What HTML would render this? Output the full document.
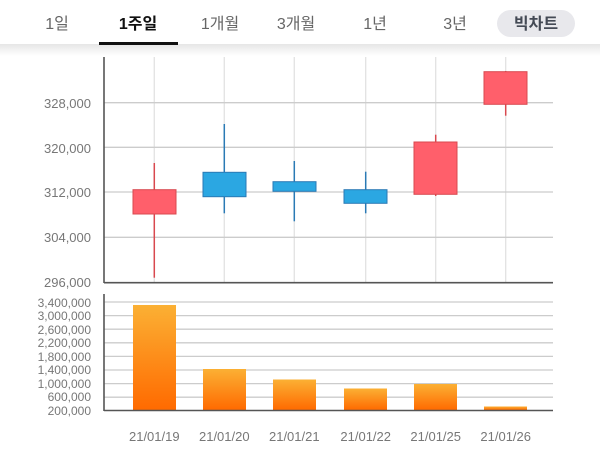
<!DOCTYPE html>
<html><head><meta charset="utf-8"><style>
body{margin:0;width:600px;height:465px;background:#fff;overflow:hidden;font-family:"Liberation Sans","Noto Sans CJK KR",sans-serif}
</style></head><body>
<svg width="600" height="465" xmlns="http://www.w3.org/2000/svg" style="position:absolute;left:0;top:0">
<defs>
<linearGradient id="g" x1="0" y1="0" x2="0" y2="1"><stop offset="0" stop-color="#fbb034"/><stop offset="1" stop-color="#ff6a00"/></linearGradient>
<linearGradient id="sh" x1="0" y1="0" x2="0" y2="1"><stop offset="0" stop-color="#e6e6e6"/><stop offset="1" stop-color="#fff"/></linearGradient>
</defs>
<rect x="0" y="44" width="600" height="12" fill="url(#sh)"/>
<g font-size="16" fill="#666" font-family="Liberation Sans,Noto Sans CJK KR,sans-serif">
<text x="57" y="29" text-anchor="middle">1일</text>
<text x="138" y="29" text-anchor="middle" font-weight="bold" fill="#111">1주일</text>
<text x="220" y="29" text-anchor="middle">1개월</text>
<text x="296" y="29" text-anchor="middle">3개월</text>
<text x="375" y="29" text-anchor="middle">1년</text>
<text x="455" y="29" text-anchor="middle">3년</text>
</g>
<rect x="497" y="10" width="78" height="27" rx="13.5" fill="#e8e8ec"/>
<text x="536" y="29" text-anchor="middle" font-size="16" font-weight="bold" fill="#444a55">빅차트</text>
<rect x="99" y="42" width="79" height="3" fill="#111"/>
<g stroke="#e2e2e2" stroke-width="1.3">
<line x1="154.3" y1="57" x2="154.3" y2="282"/><line x1="224.3" y1="57" x2="224.3" y2="282"/><line x1="294.3" y1="57" x2="294.3" y2="282"/><line x1="365.7" y1="57" x2="365.7" y2="282"/><line x1="435.7" y1="57" x2="435.7" y2="282"/><line x1="505.7" y1="57" x2="505.7" y2="282"/>
</g>
<g stroke="#ccc" stroke-width="1.3">
<line x1="104" y1="102.7" x2="553" y2="102.7"/><line x1="104" y1="147.3" x2="553" y2="147.3"/><line x1="104" y1="192" x2="553" y2="192"/><line x1="104" y1="237.3" x2="553" y2="237.3"/>
<line x1="104" y1="302" x2="553" y2="302"/><line x1="104" y1="315.6" x2="553" y2="315.6"/><line x1="104" y1="329.2" x2="553" y2="329.2"/><line x1="104" y1="342.8" x2="553" y2="342.8"/><line x1="104" y1="356.4" x2="553" y2="356.4"/><line x1="104" y1="370" x2="553" y2="370"/><line x1="104" y1="383.6" x2="553" y2="383.6"/><line x1="104" y1="397.2" x2="553" y2="397.2"/>
</g>
<g stroke-width="1.5">
<line x1="154.3" y1="163" x2="154.3" y2="277.7" stroke="#d9484f"/>
<line x1="224.3" y1="124" x2="224.3" y2="213.3" stroke="#2a7ab5"/>
<line x1="294.3" y1="161" x2="294.3" y2="221.3" stroke="#2a7ab5"/>
<line x1="365.7" y1="171.7" x2="365.7" y2="213.3" stroke="#2a7ab5"/>
<line x1="435.7" y1="134.7" x2="435.7" y2="196" stroke="#d9484f"/>
<line x1="505.7" y1="71" x2="505.7" y2="115.7" stroke="#d9484f"/>
</g>
<g stroke-width="1">
<rect x="133" y="189.7" width="43" height="24.3" fill="#ff5f6b" stroke="#d9484f"/>
<rect x="203" y="172.3" width="43" height="24.4" fill="#2ba7e2" stroke="#2a7ab5"/>
<rect x="273" y="181.7" width="43" height="9.6" fill="#2ba7e2" stroke="#2a7ab5"/>
<rect x="344" y="189.7" width="43" height="13.6" fill="#2ba7e2" stroke="#2a7ab5"/>
<rect x="414" y="142" width="43" height="52.3" fill="#ff5f6b" stroke="#d9484f"/>
<rect x="484" y="71.7" width="43" height="32.6" fill="#ff5f6b" stroke="#d9484f"/>
</g>
<g fill="url(#g)">
<rect x="133" y="305" width="43" height="105"/>
<rect x="203" y="369" width="43" height="41"/>
<rect x="273" y="379.5" width="43" height="30.5"/>
<rect x="344" y="388.5" width="43" height="21.5"/>
<rect x="414" y="384" width="43" height="26"/>
<rect x="484" y="406.5" width="43" height="3.5"/>
</g>
<g stroke="#555" stroke-width="1.6">
<line x1="104" y1="57" x2="104" y2="283"/><line x1="104" y1="282.7" x2="553" y2="282.7"/>
<line x1="104" y1="294" x2="104" y2="411"/><line x1="104" y1="410.5" x2="553" y2="410.5"/>
</g>
<g font-size="13" fill="#777" text-anchor="end">
<text x="91" y="108">328,000</text><text x="91" y="153">320,000</text><text x="91" y="197">312,000</text><text x="91" y="242">304,000</text><text x="91" y="287">296,000</text>
</g>
<g font-size="12" fill="#777" text-anchor="end">
<text x="91" y="307">3,400,000</text><text x="91" y="320">3,000,000</text><text x="91" y="334">2,600,000</text><text x="91" y="347">2,200,000</text><text x="91" y="361">1,800,000</text><text x="91" y="374">1,400,000</text><text x="91" y="388">1,000,000</text><text x="91" y="401">600,000</text><text x="91" y="415">200,000</text>
</g>
<g font-size="13" fill="#777" text-anchor="middle">
<text x="154.3" y="441">21/01/19</text><text x="224.3" y="441">21/01/20</text><text x="294.3" y="441">21/01/21</text><text x="365.7" y="441">21/01/22</text><text x="435.7" y="441">21/01/25</text><text x="505.7" y="441">21/01/26</text>
</g>
</svg>
</body></html>
